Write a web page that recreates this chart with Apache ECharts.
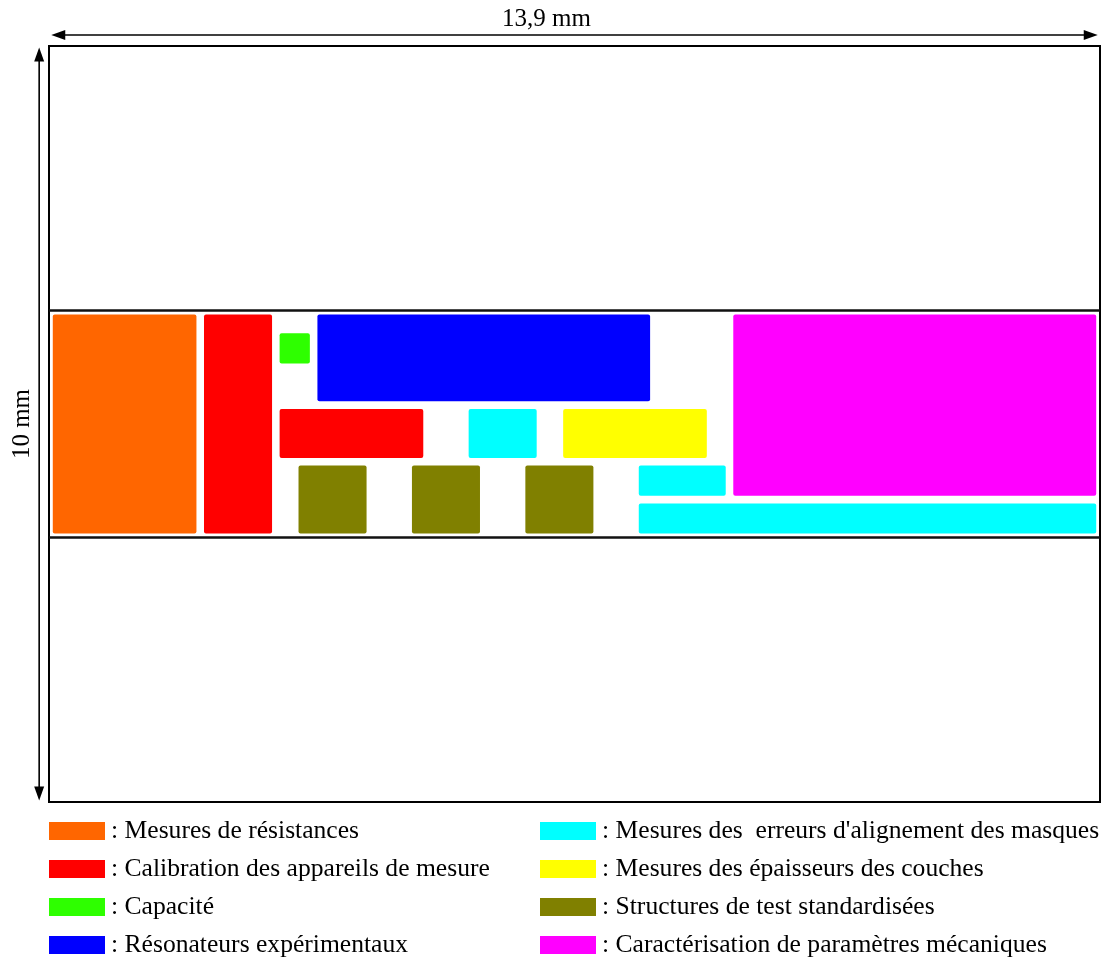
<!DOCTYPE html>
<html>
<head>
<meta charset="utf-8">
<script src="https://cdn.jsdelivr.net/npm/echarts@6/dist/echarts.min.js"></script>
<style>html,body{margin:0;padding:0;background:#fff}#main{width:1107px;height:960px}</style>
</head>
<body>
<div id="main"></div>
<script>
// Chip dimensions (mm)
const chipWidth = 13.9;
const chipHeight = 10;
const widthLabel = '13,9 mm';
const heightLabel = '10 mm';
// Test band boundaries (mm from top)
const bandLines = [3.5, 6.5];

// Categories and colours
const categories = [
  'Mesures de résistances',
  'Calibration des appareils de mesure',
  'Capacité',
  'Résonateurs expérimentaux',
  'Mesures des  erreurs d\'alignement des masques',
  'Mesures des épaisseurs des couches',
  'Structures de test standardisées',
  'Caractérisation de paramètres mécaniques'
];
const colors = ['#FF6600', '#FF0000', '#2EFF00', '#0000FF', '#00FFFF', '#FFFF00', '#808000', '#FF00FF'];

// Blocks per category: [x0, y0, x1, y1] in mm (y from top)
const resistances = [[0.05, 3.55, 1.95, 6.45]];
const calibration = [[2.05, 3.55, 2.95, 6.45], [3.05, 4.80, 4.95, 5.45]];
const capacite = [[3.05, 3.80, 3.45, 4.20]];
const resonateurs = [[3.55, 3.55, 7.95, 4.70]];
const alignement = [[5.55, 4.80, 6.45, 5.45], [7.80, 5.55, 8.95, 5.95], [7.80, 6.05, 13.85, 6.45]];
const epaisseurs = [[6.80, 4.80, 8.70, 5.45]];
const structures = [[3.30, 5.55, 4.20, 6.45], [4.80, 5.55, 5.70, 6.45], [6.30, 5.55, 7.20, 6.45]];
const mecaniques = [[9.05, 3.55, 13.85, 5.95]];

const blocks = [resistances, calibration, capacite, resonateurs, alignement, epaisseurs, structures, mecaniques];

const FONT = '"Liberation Serif", "Times New Roman", serif';

function renderRect(params, api) {
  const p0 = api.coord([api.value(0), api.value(1)]);
  const p1 = api.coord([api.value(2), api.value(3)]);
  return {
    type: 'rect',
    shape: {
      x: Math.min(p0[0], p1[0]),
      y: Math.min(p0[1], p1[1]),
      width: Math.abs(p1[0] - p0[0]),
      height: Math.abs(p1[1] - p0[1]),
      r: 2
    },
    style: { fill: api.visual('color') }
  };
}

const rectSeries = categories.map((name, i) => ({
  type: 'custom',
  name: name,
  renderItem: renderRect,
  itemStyle: { color: colors[i] },
  encode: { x: [0, 2], y: [1, 3] },
  data: blocks[i],
  silent: true
}));

const bandSeries = {
  type: 'custom',
  name: 'band',
  silent: true,
  clip: false,
  encode: { y: 0 },
  data: bandLines.map(v => [v]),
  renderItem: function (params, api) {
    const a = api.coord([0, api.value(0)]);
    const b = api.coord([chipWidth, api.value(0)]);
    return { type: 'line', shape: { x1: a[0], y1: a[1], x2: b[0], y2: b[1] },
      style: { stroke: '#111', lineWidth: 2.5 } };
  }
};

function arrowHead(tip, dir) {
  const L = 14, W = 5;
  const bx = tip[0] - dir[0] * L, by = tip[1] - dir[1] * L;
  const nx = -dir[1], ny = dir[0];
  return { type: 'polygon', shape: { points: [tip, [bx + nx * W, by + ny * W], [bx - nx * W, by - ny * W]] },
    style: { fill: '#000' } };
}

const dimSeries = {
  type: 'custom',
  name: 'dims',
  silent: true,
  clip: false,
  data: [[chipWidth, chipHeight]],
  renderItem: function (params, api) {
    const w = api.value(0), h = api.value(1);
    const off = -0.145;
    const hA = api.coord([0.03, off]);
    const hB = api.coord([w - 0.03, off]);
    const vOff = -0.13;
    const vA = api.coord([vOff, 0.02]);
    const vB = api.coord([vOff, h - 0.02]);
    return {
      type: 'group',
      children: [
        { type: 'line', shape: { x1: hA[0] + 6, y1: hA[1], x2: hB[0] - 6, y2: hB[1] }, style: { stroke: '#000', lineWidth: 1.6 } },
        arrowHead(hA, [-1, 0]),
        arrowHead(hB, [1, 0]),
        { type: 'line', shape: { x1: vA[0], y1: vA[1] + 6, x2: vB[0], y2: vB[1] - 6 }, style: { stroke: '#000', lineWidth: 1.6 } },
        arrowHead(vA, [0, -1]),
        arrowHead(vB, [0, 1]),
        { type: 'text', x: (hA[0] + hB[0]) / 2 - 28, y: hA[1] - 16,
          style: { text: widthLabel, font: '25px ' + FONT, fill: '#000', align: 'center', verticalAlign: 'middle' } },
        { type: 'text', x: vA[0] - 17, y: (vA[1] + vB[1]) / 2, rotation: Math.PI / 2,
          style: { text: heightLabel, font: '25px ' + FONT, fill: '#000', align: 'center', verticalAlign: 'middle' } }
      ]
    };
  }
};

const legendCommon = {
  orient: 'vertical',
  icon: 'rect',
  itemWidth: 56,
  itemHeight: 18,
  itemGap: 12,
  padding: 0,
  height: 170,
  selectedMode: false,
  formatter: n => ': ' + n,
  textStyle: { fontFamily: FONT, fontSize: 25.6, color: '#000', padding: [0, 0, 0, 1] }
};

const option = {
  animation: false,
  backgroundColor: '#fff',
  grid: { left: 49, top: 46, width: 1051, height: 756, show: true, borderColor: '#000', borderWidth: 2, backgroundColor: 'transparent' },
  xAxis: { type: 'value', min: 0, max: chipWidth, show: false },
  yAxis: { type: 'value', min: 0, max: chipHeight, inverse: true, show: false },
  legend: [
    Object.assign({}, legendCommon, { left: 49, top: 818, data: categories.slice(0, 4) }),
    Object.assign({}, legendCommon, { left: 540, top: 818, data: categories.slice(4) })
  ],
  series: rectSeries.concat([bandSeries, dimSeries])
};

const chart = echarts.init(document.getElementById('main'), null, { renderer: 'canvas' });
chart.setOption(option);
</script>
</body>
</html>
